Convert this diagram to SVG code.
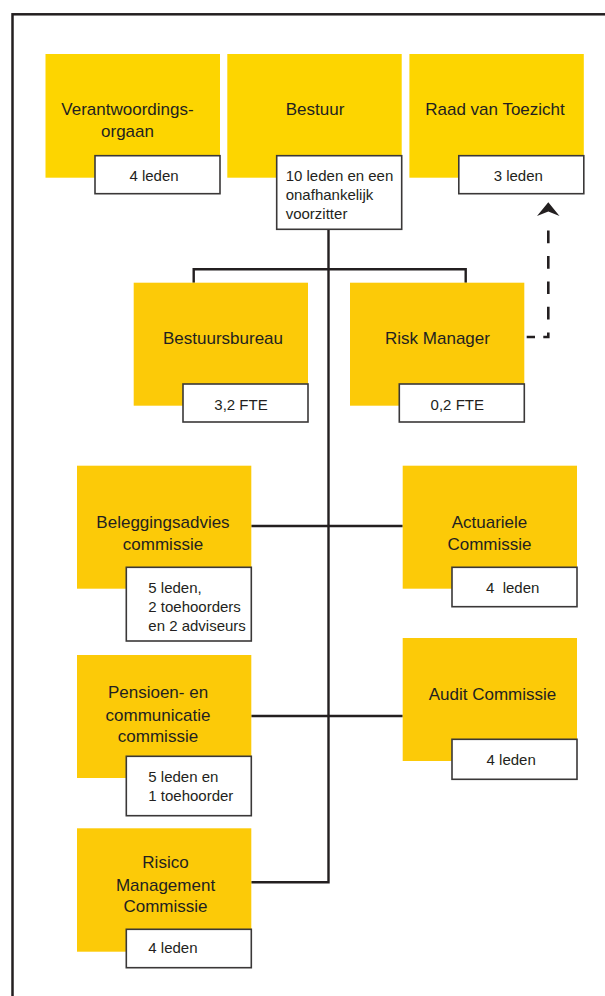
<svg xmlns="http://www.w3.org/2000/svg" width="605" height="996" viewBox="0 0 605 996">
<style>
  .frame { fill: none; stroke: #231F20; stroke-width: 2.5; }
  .ytop { fill: #FDD500; }
  .ylow { fill: #FCCA08; }
  .wbox { fill: #FFFFFF; stroke: #3A3838; stroke-width: 1.6; }
  .title { font-family: "Liberation Sans", Arial, sans-serif; font-size: 17px; fill: #231F20; text-anchor: middle; }
  .sub { font-family: "Liberation Sans", Arial, sans-serif; font-size: 15px; fill: #231F20; }
  .mid { text-anchor: middle; }
  .conn { fill: none; stroke: #231F20; stroke-width: 2.4; }
  .dash { fill: none; stroke: #231F20; stroke-width: 2.6; stroke-dasharray: 8.3 8.3 9.5 13 12.7 12.7 12.7 12.7 12.7 12.7 12.7 20; }
</style>
<defs>
  <marker id="arrow" markerUnits="userSpaceOnUse" markerWidth="24" markerHeight="16" viewBox="0 0 14 23" refX="10" refY="11.5" orient="auto">
    <path d="M14 11.5 L0 0 L4 11.5 L0 23 Z" fill="#231F20"/>
  </marker>
</defs>
<rect x="0" y="0" width="605" height="996" fill="#FFFFFF"/>
<rect class="frame" x="12.5" y="14.3" width="800" height="1200"/>

<g id="connectors">
  <path class="conn" d="M328.5 229.3 V882.3 H251.3"/>
  <path class="conn" d="M193.7 282.7 V269.3 H465.7 V282.7"/>
  <path class="conn" d="M251.3 526 H402.7"/>
  <path class="conn" d="M251.3 716 H402.7"/>
  <path class="dash" d="M526.7 337 H548.3 V216"/>
  <path d="M548.3 202.3 L559.5 216 L548.3 211.5 L537 216 Z" fill="#231F20"/>
</g>

<g id="verantwoordingsorgaan">
  <rect class="ytop" x="45.5" y="54" width="174.5" height="123.7"/>
  <rect class="wbox" x="95" y="155.7" width="125" height="38"/>
  <text class="title" x="127.5" y="115">Verantwoordings-</text>
  <text class="title" x="127.5" y="137.3">orgaan</text>
  <text class="sub mid" x="154" y="181">4 leden</text>
</g>

<g id="bestuur">
  <rect class="ytop" x="227.3" y="54" width="174.4" height="123.7"/>
  <rect class="wbox" x="276.7" y="155.7" width="125" height="73.6"/>
  <text class="title" x="315" y="115">Bestuur</text>
  <text class="sub" x="285.7" y="181">10 leden en een</text>
  <text class="sub" x="285.7" y="200">onafhankelijk</text>
  <text class="sub" x="285.7" y="219">voorzitter</text>
</g>

<g id="raad-van-toezicht">
  <rect class="ytop" x="409.4" y="54" width="174.4" height="123.7"/>
  <rect class="wbox" x="458.8" y="155.7" width="125" height="38"/>
  <text class="title" x="495" y="115">Raad van Toezicht</text>
  <text class="sub mid" x="518.3" y="181">3 leden</text>
</g>

<g id="bestuursbureau">
  <rect class="ylow" x="133.7" y="282.7" width="174.3" height="123"/>
  <rect class="wbox" x="183" y="384" width="125" height="38"/>
  <text class="title" x="223" y="344">Bestuursbureau</text>
  <text class="sub mid" x="241" y="410">3,2 FTE</text>
</g>

<g id="risk-manager">
  <rect class="ylow" x="350" y="282.7" width="174.3" height="123"/>
  <rect class="wbox" x="399.3" y="384" width="125" height="38"/>
  <text class="title" x="437.5" y="344">Risk Manager</text>
  <text class="sub mid" x="457.3" y="410">0,2 FTE</text>
</g>

<g id="beleggingsadviescommissie">
  <rect class="ylow" x="77" y="465.7" width="174.3" height="123"/>
  <rect class="wbox" x="126.3" y="567.3" width="125" height="73.7"/>
  <text class="title" x="163" y="527.7">Beleggingsadvies</text>
  <text class="title" x="163" y="550">commissie</text>
  <text class="sub" x="148.3" y="592.6">5 leden,</text>
  <text class="sub" x="148.3" y="611.6">2 toehoorders</text>
  <text class="sub" x="148.3" y="630.5">en 2 adviseurs</text>
</g>

<g id="actuariele-commissie">
  <rect class="ylow" x="402.7" y="465.7" width="174.3" height="123"/>
  <rect class="wbox" x="452" y="567.3" width="125" height="39.4"/>
  <text class="title" x="489.5" y="527.7">Actuariele</text>
  <text class="title" x="489.5" y="550">Commissie</text>
  <text class="sub mid" x="512.7" y="592.6" xml:space="preserve">4  leden</text>
</g>

<g id="pensioen-en-communicatiecommissie">
  <rect class="ylow" x="77" y="655" width="174.3" height="123"/>
  <rect class="wbox" x="126.3" y="756.3" width="125" height="59.4"/>
  <text class="title" x="158" y="698.3">Pensioen- en</text>
  <text class="title" x="158" y="721">communicatie</text>
  <text class="title" x="158" y="742.3">commissie</text>
  <text class="sub" x="148.3" y="781.7">5 leden en</text>
  <text class="sub" x="148.3" y="800.7">1 toehoorder</text>
</g>

<g id="audit-commissie">
  <rect class="ylow" x="402.7" y="638" width="174.3" height="123"/>
  <rect class="wbox" x="452" y="739.3" width="125" height="40"/>
  <text class="title" x="492.5" y="700">Audit Commissie</text>
  <text class="sub mid" x="511.2" y="765">4 leden</text>
</g>

<g id="risico-management-commissie">
  <rect class="ylow" x="77" y="828.3" width="174.3" height="123.4"/>
  <rect class="wbox" x="126.3" y="929.3" width="125" height="38.4"/>
  <text class="title" x="165.5" y="868.3">Risico</text>
  <text class="title" x="165.5" y="890.7">Management</text>
  <text class="title" x="165.5" y="912.3">Commissie</text>
  <text class="sub" x="148.3" y="952.7">4 leden</text>
</g>
</svg>
